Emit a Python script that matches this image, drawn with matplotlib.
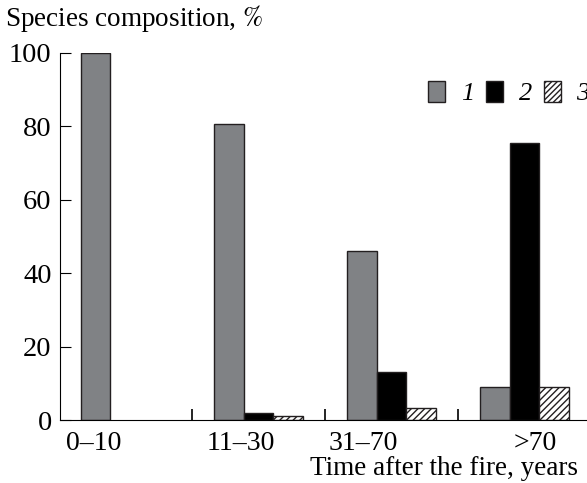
import matplotlib.pyplot as plt
import matplotlib.patches as mpatches
import numpy as np

plt.rcParams['font.family'] = ['Liberation Serif', 'DejaVu Serif']
plt.rcParams['mathtext.fontset'] = 'stix'
plt.rcParams['hatch.linewidth'] = 1.0

# Données
categories = ['0–10', '11–30', '31–70', '>70']
series_1 = [100, 80.7, 46, 9]
series_2 = [0, 2, 13.2, 75.5]
series_3 = [0, 1, 3.3, 9]
legend_labels = ['1', '2', '3']

x = np.arange(len(categories))
w = 0.222
# décalage des étiquettes (comme sur l'original)
label_shift = [-0.24, -0.13, -0.21, 0.08]

fig = plt.figure(figsize=(5.87, 4.83), dpi=100)
ax = fig.add_axes([60 / 587, 63 / 483, 1 - 60 / 587, 367 / 483])

b1 = ax.bar(x - w, series_1, w, color='#808285', edgecolor='#231f20', linewidth=1.0)
b2 = ax.bar(x, series_2, w, color='#000000', edgecolor='#231f20', linewidth=1.0)
b3 = ax.bar(x + w, series_3, w, color='white', edgecolor='#231f20', linewidth=1.0, hatch='/////')
for b in list(b2) + list(b3):
    if b.get_height() == 0:
        b.set_visible(False)

ax.set_xlim(-0.49, 3.47)
ax.set_ylim(0, 100)
ax.spines['top'].set_visible(False)
ax.spines['right'].set_visible(False)

ax.set_yticks([0, 20, 40, 60, 80, 100])
ax.tick_params(axis='y', direction='in', length=8, labelsize=20.5, pad=6)
ax.set_xticks(x + np.array(label_shift))
ax.set_xticklabels(categories)
ax.tick_params(axis='x', which='major', length=0, labelsize=20, pad=8)
ax.set_xticks(x[:-1] + 0.5, minor=True)
ax.tick_params(axis='x', which='minor', direction='in', length=8, width=1.2)

fig.text(5 / 587, 1 - 26 / 483, r'Species composition, $\mathit{\%}$', fontsize=19.5, va='baseline')
fig.text(578 / 587, 1 - 475 / 483, 'Time after the fire, years', fontsize=19.5, ha='right', va='baseline')

handles = [
    mpatches.Patch(facecolor='#808285', edgecolor='#231f20'),
    mpatches.Patch(facecolor='#000000', edgecolor='#231f20'),
    mpatches.Patch(facecolor='white', edgecolor='#231f20', hatch='//////'),
]
leg = ax.legend(handles, legend_labels, ncol=3, frameon=False, loc='center left',
                bbox_to_anchor=(428 / 587, 1 - 93 / 483), bbox_transform=fig.transFigure,
                borderpad=0, borderaxespad=0, handlelength=0.64, handleheight=0.85,
                handletextpad=0.6, columnspacing=0.45, prop={'size': 19, 'style': 'italic'})

plt.savefig('out.png', dpi=100)
